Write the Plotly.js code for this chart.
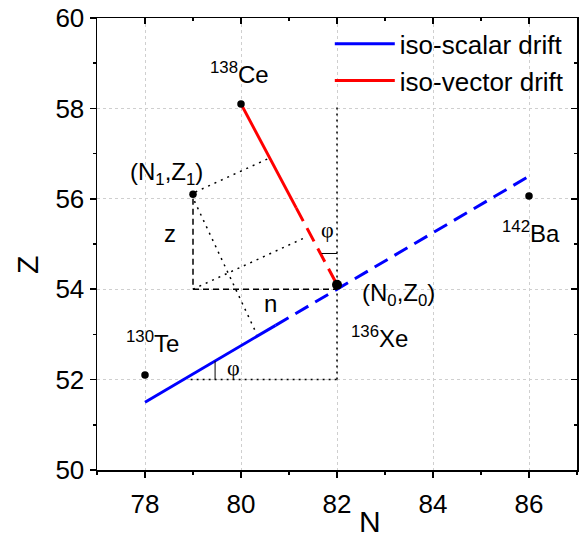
<!DOCTYPE html>
<html>
<head>
<meta charset="utf-8">
<script src="https://cdn.plot.ly/plotly-3.0.1.min.js"></script>
<style>html,body{margin:0;padding:0;background:#fff}#chart{width:580px;height:540px}</style>
</head>
<body>
<div id="chart"></div>
<script>
// ---- data ----
const nucleiN = [78, 80, 86];
const nucleiZ = [52.1, 58.1, 56.06];
const nucleiLabels = ['<sup>130</sup>Te', '<sup>138</sup>Ce', '<sup>142</sup>Ba'];
const start1N = [79];
const start1Z = [56.1];
const originN = [82];
const originZ = [54.1];

const isoScalarSolidN = [78, 80.72];
const isoScalarSolidZ = [51.5, 53.2];
const isoScalarDashN = [80.72, 86];
const isoScalarDashZ = [53.2, 56.5];

const isoVectorSolidN = [80, 81.15];
const isoVectorSolidZ = [58.1, 55.8];
const isoVectorDashN = [81.15, 82];
const isoVectorDashZ = [55.8, 54.1];

const projVertN = [79, 79];
const projVertZ = [56.0, 54.0];
const projHorN = [79, 82];
const projHorZ = [54, 54];

const dotToVectorN = [79.05, 80.55];
const dotToVectorZ = [56.15, 56.88];
const dotToScalarN = [79.03, 80.33];
const dotToScalarZ = [55.95, 53.0];
const dotFromCornerN = [79.0, 81.35];
const dotFromCornerZ = [54.0, 55.15];
const dotVertN = [82, 82];
const dotVertZ = [52, 58.05];
const dotHorN = [78.95, 82];
const dotHorZ = [52, 52];

const arcLowN = [79.46, 79.46];
const arcLowZ = [52.0, 52.41];
const arcHighN = [81.68, 82.0];
const arcHighZ = [54.79, 54.79];

const xTicks = [78, 80, 82, 84, 86];
const yTicks = [50, 52, 54, 56, 58, 60];

// ---- traces ----
function seg(x, y, color, width, dash, name, showlegend) {
  return {x: x, y: y, mode: 'lines', type: 'scatter', name: name || '',
    showlegend: !!showlegend, hoverinfo: 'skip',
    line: {color: color, width: width, dash: dash || 'solid'}};
}
const traces = [
  seg(isoScalarSolidN, isoScalarSolidZ, 'rgb(0,0,255)', 3, 'solid', 'iso-scalar drift', true),
  seg(isoVectorSolidN, isoVectorSolidZ, 'rgb(255,0,0)', 3, 'solid', 'iso-vector drift', true),
  seg(isoScalarDashN, isoScalarDashZ, 'rgb(0,0,255)', 3, '15px,8px'),
  seg(isoVectorDashN, isoVectorDashZ, 'rgb(255,0,0)', 3, '15px,8px'),
  seg(projVertN, projVertZ, 'black', 1.5, '6px,4px'),
  seg(projHorN, projHorZ, 'black', 1.5, '6px,4px'),
  seg(dotToVectorN, dotToVectorZ, 'black', 1.5, '2px,5px'),
  seg(dotToScalarN, dotToScalarZ, 'black', 1.5, '2px,5px'),
  seg(dotFromCornerN, dotFromCornerZ, 'black', 1.5, '2px,5px'),
  seg(dotVertN, dotVertZ, 'black', 1.5, '2px,4px'),
  seg(dotHorN, dotHorZ, 'black', 1.5, '2px,4px'),
  seg(arcLowN, arcLowZ, 'black', 1, 'solid'),
  seg(arcHighN, arcHighZ, 'black', 1, 'solid'),
  {x: nucleiN, y: nucleiZ, mode: 'markers', type: 'scatter', showlegend: false, hoverinfo: 'skip',
   marker: {color: 'black', size: 7.5}},
  {x: start1N, y: start1Z, mode: 'markers', type: 'scatter', showlegend: false, hoverinfo: 'skip',
   marker: {color: 'black', size: 7.5}},
  {x: originN, y: originZ, mode: 'markers', type: 'scatter', showlegend: false, hoverinfo: 'skip',
   marker: {color: 'black', size: 10}},
  {x: [], y: [], xaxis: 'x2', yaxis: 'y2', type: 'scatter', mode: 'lines', showlegend: false, hoverinfo: 'skip'}
];

const F = 'Liberation Sans, Arial, Helvetica, sans-serif';
const lblFont = {family: F, size: 24, color: 'black'};
const phiFont = {family: 'Liberation Serif, Times New Roman, serif', size: 22, color: 'black'};
const titleFont = {family: F, size: 30, color: 'black'};

function ann(x, y, text, font) {
  return {x: x, y: y, xref: 'x', yref: 'y', text: text, showarrow: false,
    font: font || lblFont, xanchor: 'center', yanchor: 'middle'};
}
const annotations = [
  ann(78.15, 52.83, nucleiLabels[0]),
  ann(79.96, 58.78, nucleiLabels[1]),
  ann(86.04, 55.27, nucleiLabels[2]),
  ann(82.89, 52.94, '<sup>136</sup>Xe'),
  ann(78.44, 56.55, '(N<sub>1</sub>,Z<sub>1</sub>)'),
  ann(83.28, 53.88, '(N<sub>0</sub>,Z<sub>0</sub>)'),
  ann(78.52, 55.24, 'z'),
  ann(80.61, 53.69, 'n'),
  ann(81.8, 55.31, 'φ', phiFont),
  ann(79.84, 52.26, 'φ', phiFont),
  // axis titles (placed as in the reference, off-centre)
  {x: 0.569, y: -0.113, xref: 'paper', yref: 'paper', text: 'N', showarrow: false,
   font: titleFont, xanchor: 'center', yanchor: 'middle'},
  {x: -0.146, y: 0.4535, xref: 'paper', yref: 'paper', text: 'Z', showarrow: false, textangle: -90,
   font: titleFont, xanchor: 'center', yanchor: 'middle'}
];

const axCommon = {
  showline: true, linecolor: 'black', linewidth: 1.5, zeroline: false,
  tickfont: {family: F, size: 26, color: 'black'},
  ticklen: 6, tickwidth: 1.5, tickcolor: 'black'
};

const layout = {
  width: 580, height: 540,
  margin: {l: 97, r: 3, t: 18, b: 70},
  paper_bgcolor: 'white', plot_bgcolor: 'white',
  showlegend: true,
  legend: {x: 0.985, xanchor: 'right', y: 0.995, yanchor: 'top', bgcolor: 'rgba(0,0,0,0)',
    font: {family: F, size: 26, color: 'black'}, itemwidth: 60, tracegroupgap: 0},
  xaxis: Object.assign({}, axCommon, {
    range: [77, 87], tickmode: 'array', tickvals: xTicks, ticks: 'outside', ticklabelstandoff: 4,
    showgrid: true, gridcolor: '#cfcfcf', griddash: 'dot', gridwidth: 1,
    minor: {dtick: 1, tick0: 77, ticks: 'outside', ticklen: 3, tickcolor: 'black', tickwidth: 1.5, showgrid: false}
  }),
  yaxis: Object.assign({}, axCommon, {
    range: [50, 60], tickmode: 'array', tickvals: yTicks, ticks: 'outside',
    showgrid: true, gridcolor: '#cfcfcf', griddash: 'dot', gridwidth: 1,
    minor: {dtick: 1, tick0: 50, ticks: 'outside', ticklen: 3, tickcolor: 'black', tickwidth: 1.5, showgrid: false}
  }),
  xaxis2: Object.assign({}, axCommon, {
    overlaying: 'x', side: 'top', anchor: 'y2', range: [77, 87], tickmode: 'array', tickvals: xTicks,
    ticks: 'inside', showticklabels: false, showgrid: false,
    minor: {dtick: 1, tick0: 77, ticks: 'inside', ticklen: 3, tickcolor: 'black', tickwidth: 1.5, showgrid: false}
  }),
  yaxis2: Object.assign({}, axCommon, {
    overlaying: 'y', side: 'right', anchor: 'x2', range: [50, 60], tickmode: 'array', tickvals: yTicks,
    ticks: 'inside', showticklabels: false, showgrid: false,
    minor: {dtick: 1, tick0: 50, ticks: 'inside', ticklen: 3, tickcolor: 'black', tickwidth: 1.5, showgrid: false}
  }),
  annotations: annotations
};

Plotly.newPlot('chart', traces, layout, {staticPlot: true, displayModeBar: false});
</script>
</body>
</html>
